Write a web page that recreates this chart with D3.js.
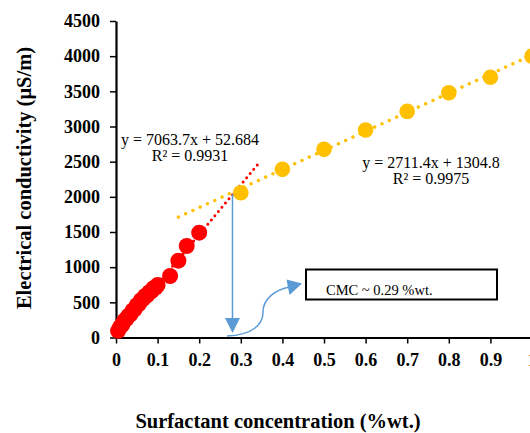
<!DOCTYPE html>
<html>
<head>
<meta charset="utf-8">
<script src="https://cdn.jsdelivr.net/npm/d3@7"></script>
<style>
  body { margin: 0; background: #fff; }
  text { font-family: "Liberation Serif", "Times New Roman", serif; }
</style>
</head>
<body>
<script>
// canvas size
const width = 530, height = 433;

// pre-CMC points (red) and post-CMC points (orange)
const belowX = [0.005, 0.01, 0.015, 0.02, 0.025, 0.03, 0.035, 0.04, 0.045, 0.05, 0.055, 0.06, 0.065, 0.07, 0.075, 0.08, 0.085, 0.09, 0.095, 0.1, 0.13, 0.15, 0.17, 0.2];
const belowY = [95, 150, 180, 240, 260, 310, 330, 385, 400, 460, 475, 530, 545, 590, 600, 645, 655, 700, 710, 745, 874, 1092, 1301, 1490];
const aboveX = [0.3, 0.4, 0.5, 0.6, 0.7, 0.8, 0.9, 1.0];
const aboveY = [2058, 2391, 2675, 2950, 3215, 3480, 3700, 4000];

// linear fits shown on the chart
const fitBelow = { slope: 7063.7, intercept: 52.684, from: 0, to: 0.34 };
const fitAbove = { slope: 2711.4, intercept: 1304.8, from: 0.15, to: 1.0 };

const xTicks = [0, 0.1, 0.2, 0.3, 0.4, 0.5, 0.6, 0.7, 0.8, 0.9, 1];
const yTicks = [0, 500, 1000, 1500, 2000, 2500, 3000, 3500, 4000, 4500];

const svg = d3.select("body").append("svg")
    .attr("width", width)
    .attr("height", height);

const x = d3.scaleLinear().domain([0, 1]).range([116, 532]);
const y = d3.scaleLinear().domain([0, 4500]).range([337.5, 21]);

// axes
const xAxis = svg.append("g")
    .attr("transform", `translate(0,${y(0)})`)
    .call(d3.axisBottom(x).tickValues(xTicks).tickSize(6).tickSizeOuter(0).tickFormat(d => String(d)));
const yAxis = svg.append("g")
    .attr("transform", `translate(${x(0)},0)`)
    .call(d3.axisLeft(y).tickValues(yTicks).tickSize(6).tickSizeOuter(0).tickFormat(d => String(d)));

[xAxis, yAxis].forEach(g => {
    g.attr("font-family", null);
    g.select(".domain").attr("stroke", "#000").attr("stroke-width", 2.2);
    g.selectAll(".tick line").attr("stroke", "#000").attr("stroke-width", 1.5);
    g.selectAll(".tick text")
        .attr("font-weight", "bold")
        .attr("font-size", 18)
        .attr("fill", "#000");
});
xAxis.selectAll(".tick text").attr("dy", "1em").attr("y", 10);
yAxis.selectAll(".tick text").attr("x", -16);

// axis titles
svg.append("text")
    .attr("x", 278).attr("y", 428)
    .attr("text-anchor", "middle")
    .attr("font-weight", "bold").attr("font-size", 20.5)
    .text("Surfactant concentration (%wt.)");

svg.append("text")
    .attr("transform", "translate(31,178) rotate(-90)")
    .attr("text-anchor", "middle")
    .attr("font-weight", "bold").attr("font-size", 20.5)
    .text("Electrical conductivity (μS/m)");

// trend lines (dotted)
function fitLine(f, color, width, dash) {
    svg.append("line")
        .attr("x1", x(f.from)).attr("y1", y(f.slope * f.from + f.intercept))
        .attr("x2", x(f.to)).attr("y2", y(f.slope * f.to + f.intercept))
        .attr("stroke", color)
        .attr("stroke-width", width)
        .attr("stroke-linecap", "round")
        .attr("stroke-dasharray", dash);
}
fitLine(fitBelow, "#FF0000", 3, "0 5.5");
fitLine(fitAbove, "#FFC000", 3.6, "0 8");

// data points
svg.append("g").selectAll("circle")
    .data(belowX.map((v, i) => [v, belowY[i]]))
    .enter().append("circle")
    .attr("cx", d => x(d[0]))
    .attr("cy", d => y(d[1]))
    .attr("r", 8)
    .attr("fill", "#FF0000");

svg.append("g").selectAll("circle")
    .data(aboveX.map((v, i) => [v, aboveY[i]]))
    .enter().append("circle")
    .attr("cx", d => x(d[0]))
    .attr("cy", d => y(d[1]))
    .attr("r", 7.8)
    .attr("fill", "#FFC000");

// equations
function eq(cx, by, lines) {
    lines.forEach((t, i) => {
        svg.append("text")
            .attr("x", cx).attr("y", by + i * 16)
            .attr("text-anchor", "middle")
            .attr("font-size", 16)
            .attr("fill", "#000")
            .text(t);
    });
}
eq(190, 145, ["y = 7063.7x + 52.684", "R² = 0.9931"]);
eq(431, 168, ["y = 2711.4x + 1304.8", "R² = 0.9975"]);

// CMC arrows
const blue = "#5B9BD5";
const cmcX = x(0.28);
svg.append("line")
    .attr("x1", cmcX).attr("y1", y(2040))
    .attr("x2", cmcX).attr("y2", 320)
    .attr("stroke", blue).attr("stroke-width", 1.5);
svg.append("path")
    .attr("d", `M${cmcX},333 L${cmcX - 7.5},318 L${cmcX + 7.5},318 Z`)
    .attr("fill", blue);

svg.append("path")
    .attr("d", "M227,336 C252,335 263,325 263,312 C263,298 276,290 289,287")
    .attr("fill", "none").attr("stroke", blue).attr("stroke-width", 1.5);
svg.append("path")
    .attr("d", "M302,283.5 L286.5,279.5 L289.5,295 Z")
    .attr("fill", blue);

// CMC label box
svg.append("rect")
    .attr("x", 306).attr("y", 269.5)
    .attr("width", 191).attr("height", 30)
    .attr("fill", "#fff").attr("stroke", "#000").attr("stroke-width", 2);
svg.append("text")
    .attr("x", 326).attr("y", 295)
    .attr("font-size", 14.5)
    .text("CMC ~ 0.29 %wt.");
</script>
</body>
</html>
